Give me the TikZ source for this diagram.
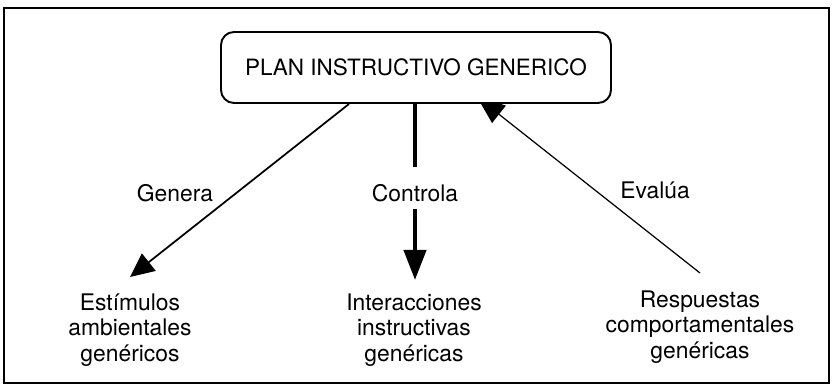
\documentclass[tikz,border=0pt]{standalone}
\usepackage{fontspec}
\setmainfont{TeX Gyre Heros}
\usepackage{tikz}
\usetikzlibrary{arrows.meta,calc,positioning,backgrounds}

\tikzset{
    planbox/.style={draw, line width=1.1pt, fill=white, rounded corners=0.26cm,
        minimum width=7.8cm, minimum height=1.42cm, inner sep=0,
        font=\fontsize{12.8}{14.5}\selectfont},
    resultado/.style={align=center, inner sep=0, anchor=north,
        font=\fontsize{13}{14.6}\selectfont},
    etiqueta/.style={inner xsep=0, inner ysep=0.14cm, font=\fontsize{13}{14.6}\selectfont},
    genera/.style={line width=1pt, -{Triangle[length=0.48cm,width=0.44cm]}},
    controla/.style={line width=2.4pt, -{Triangle[length=0.6cm,width=0.44cm]}},
    evalua/.style={line width=0.7pt, -{Triangle[length=0.56cm,width=0.44cm]}}
}

\begin{document}
\begin{tikzpicture}
    \useasboundingbox (0, 0) rectangle (16.64, 7.74);
    \draw[line width=1.1pt] (0.08, 0.08) rectangle (16.58, 7.58);

    \node[planbox] (plan) at (8.32, 6.39) {PLAN INSTRUCTIVO GENERICO};

    \node[resultado] (estimulos) at (2.60, 1.88) {Estímulos\\ambientales\\genéricos};
    \node[resultado] (interacciones) at (8.28, 1.88) {Interacciones\\instructivas\\genéricas};
    \node[resultado] (respuestas) at (14.00, 1.94) {Respuestas\\comportamentales\\genéricas};

    \node[etiqueta] (lgenera) at (3.50, 3.88) {Genera};
    \node[etiqueta] (lcontrola) at (8.30, 3.88) {Controla};
    \node[etiqueta] (levalua) at (13.10, 3.94) {Evalúa};

    \begin{scope}[on background layer]
        \draw[genera] ($(plan.south)+(-1.34, 0)$) -- ($(estimulos.north)+(0, 0.32)$);
        \draw[evalua] ($(respuestas.north)+(0, 0.34)$) -- ($(plan.south)+(1.22, 0.14)$);
    \end{scope}
    \draw[line width=2.4pt, shorten >=0.2cm] (plan.south -| lcontrola) -- (lcontrola.north);
    \draw[controla] (lcontrola.south) -- ($(interacciones.north -| lcontrola)+(0, 0.26)$);
\end{tikzpicture}
\end{document}
